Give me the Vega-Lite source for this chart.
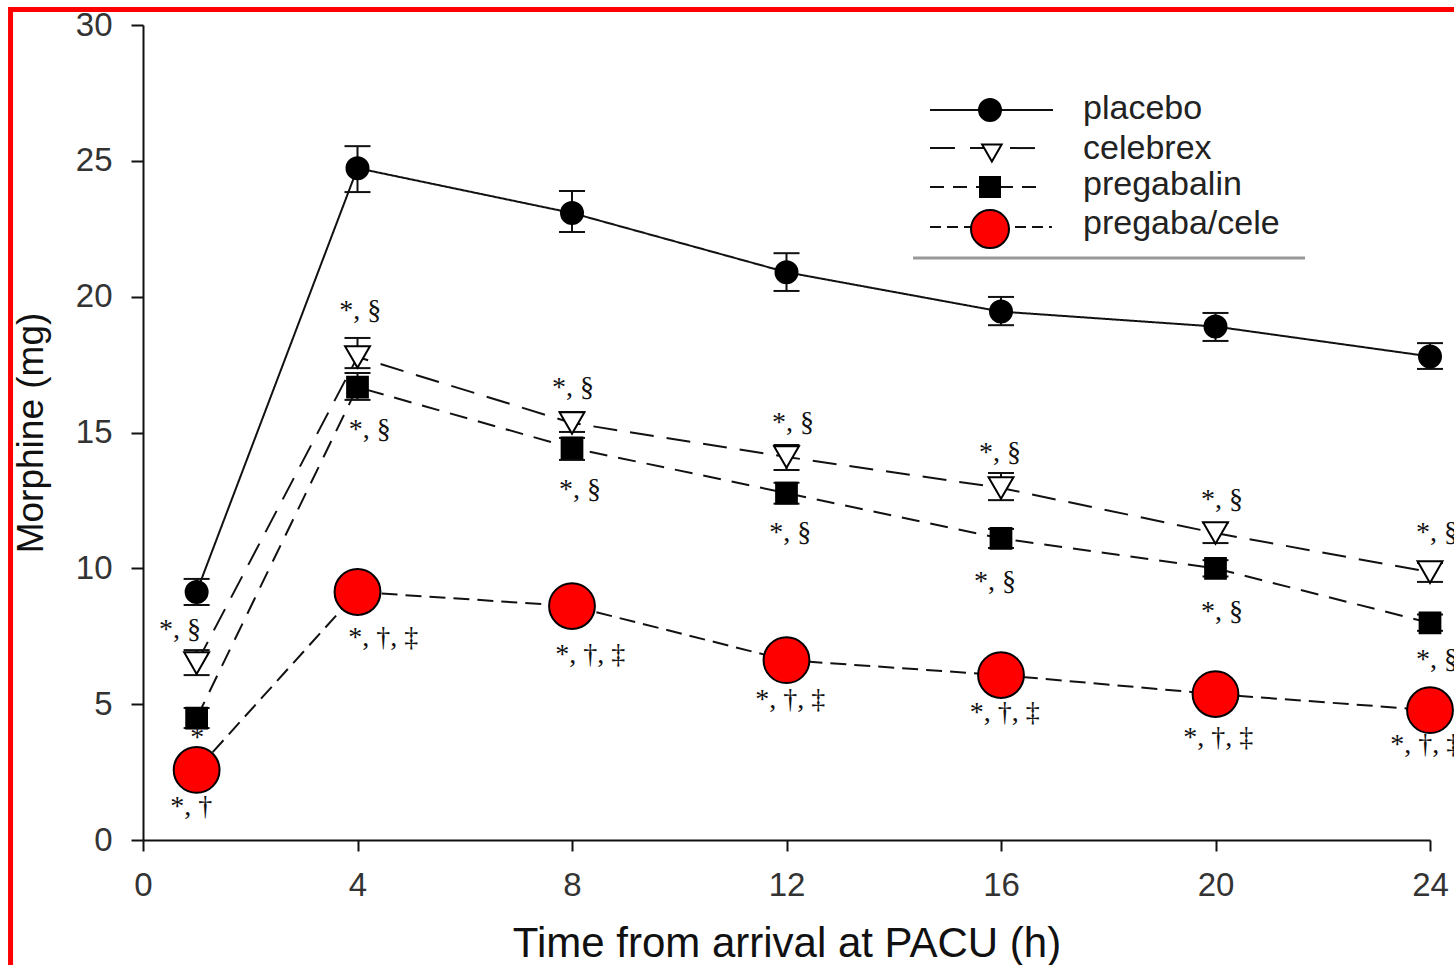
{
  "$schema": "https://vega.github.io/schema/vega-lite/v6.json",
  "width": 1287,
  "height": 815,
  "autosize": {"type": "none"},
  "padding": {"left": 143, "top": 25, "right": 24, "bottom": 125},
  "background": "white",
  "config": {"view": {"stroke": null}, "font": "Liberation Sans"},
  "datasets": {
    "series": [
      {"series": "placebo", "time": 1, "value": 9.13, "lo": 8.65, "hi": 9.61},
      {"series": "placebo", "time": 4, "value": 24.73, "lo": 23.85, "hi": 25.54},
      {"series": "placebo", "time": 8, "value": 23.08, "lo": 22.38, "hi": 23.89},
      {"series": "placebo", "time": 12, "value": 20.9, "lo": 20.21, "hi": 21.6},
      {"series": "placebo", "time": 16, "value": 19.45, "lo": 18.95, "hi": 19.99},
      {"series": "placebo", "time": 20, "value": 18.9, "lo": 18.37, "hi": 19.4},
      {"series": "placebo", "time": 24, "value": 17.8, "lo": 17.34, "hi": 18.29},
      {"series": "celebrex", "time": 1, "value": 6.51, "lo": 6.07, "hi": 6.99},
      {"series": "celebrex", "time": 4, "value": 17.78, "lo": 17.37, "hi": 18.48},
      {"series": "celebrex", "time": 8, "value": 15.35, "lo": 15.02, "hi": 15.75},
      {"series": "celebrex", "time": 12, "value": 14.1, "lo": 13.62, "hi": 14.54},
      {"series": "celebrex", "time": 16, "value": 12.96, "lo": 12.51, "hi": 13.51},
      {"series": "celebrex", "time": 20, "value": 11.3, "lo": 10.93, "hi": 11.67},
      {"series": "celebrex", "time": 24, "value": 9.86, "lo": 9.5, "hi": 10.2},
      {"series": "pregabalin", "time": 1, "value": 4.49, "lo": 4.12, "hi": 4.86},
      {"series": "pregabalin", "time": 4, "value": 16.67, "lo": 16.2, "hi": 17.19},
      {"series": "pregabalin", "time": 8, "value": 14.43, "lo": 13.99, "hi": 14.8},
      {"series": "pregabalin", "time": 12, "value": 12.77, "lo": 12.38, "hi": 13.15},
      {"series": "pregabalin", "time": 16, "value": 11.1, "lo": 10.75, "hi": 11.45},
      {"series": "pregabalin", "time": 20, "value": 10.0, "lo": 9.7, "hi": 10.3},
      {"series": "pregabalin", "time": 24, "value": 7.99, "lo": 7.7, "hi": 8.3},
      {"series": "pregaba/cele", "time": 1, "value": 2.58, "lo": null, "hi": null},
      {"series": "pregaba/cele", "time": 4, "value": 9.13, "lo": null, "hi": null},
      {"series": "pregaba/cele", "time": 8, "value": 8.61, "lo": null, "hi": null},
      {"series": "pregaba/cele", "time": 12, "value": 6.62, "lo": null, "hi": null},
      {"series": "pregaba/cele", "time": 16, "value": 6.07, "lo": null, "hi": null},
      {"series": "pregaba/cele", "time": 20, "value": 5.37, "lo": null, "hi": null},
      {"series": "pregaba/cele", "time": 24, "value": 4.78, "lo": null, "hi": null}
    ],
    "notes": [
      {"time": 0.69, "value": 7.73, "label": "*, §"},
      {"time": 1.01, "value": 3.75, "label": "*"},
      {"time": 0.9, "value": 1.21, "label": "*, †"},
      {"time": 4.05, "value": 19.47, "label": "*, §"},
      {"time": 4.23, "value": 15.09, "label": "*, §"},
      {"time": 4.48, "value": 7.44, "label": "*, †, ‡"},
      {"time": 8.02, "value": 16.64, "label": "*, §"},
      {"time": 8.15, "value": 12.88, "label": "*, §"},
      {"time": 8.34, "value": 6.81, "label": "*, †, ‡"},
      {"time": 12.12, "value": 15.35, "label": "*, §"},
      {"time": 12.07, "value": 11.3, "label": "*, §"},
      {"time": 12.07, "value": 5.15, "label": "*, †, ‡"},
      {"time": 15.98, "value": 14.25, "label": "*, §"},
      {"time": 15.89, "value": 9.5, "label": "*, §"},
      {"time": 16.07, "value": 4.67, "label": "*, †, ‡"},
      {"time": 20.12, "value": 12.52, "label": "*, §"},
      {"time": 20.12, "value": 8.39, "label": "*, §"},
      {"time": 20.05, "value": 3.75, "label": "*, †, ‡"},
      {"time": 24.13, "value": 11.3, "label": "*, §"},
      {"time": 24.13, "value": 6.63, "label": "*, §"},
      {"time": 23.91, "value": 3.5, "label": "*, †, ‡"}
    ],
    "one": [{"k": 1}]
  },
  "layer": [
    {
      "data": {"name": "series"},
      "mark": {"type": "line", "stroke": "#111111", "strokeWidth": 2},
      "encoding": {
        "x": {
          "field": "time", "type": "quantitative",
          "scale": {"domain": [0, 24], "nice": false, "zero": false},
          "axis": {
            "title": "Time from arrival at PACU (h)",
            "values": [0, 4, 8, 12, 16, 20, 24],
            "labelFont": "Liberation Sans", "labelFontSize": 33, "labelColor": "#333333",
            "labelPadding": 18, "labelFlush": false, "labelOverlap": false,
            "tickSize": 11, "tickWidth": 2, "tickColor": "#111111",
            "domainColor": "#111111", "domainWidth": 2, "grid": false,
            "titleFont": "Liberation Sans", "titleFontSize": 42, "titleFontWeight": "normal",
            "titleColor": "#111111", "titlePadding": 21
          }
        },
        "y": {
          "field": "value", "type": "quantitative",
          "scale": {"domain": [0, 30], "nice": false},
          "axis": {
            "title": "Morphine (mg)",
            "values": [0, 5, 10, 15, 20, 25, 30],
            "labelFont": "Liberation Sans", "labelFontSize": 33, "labelColor": "#333333",
            "labelPadding": 19, "labelFlush": false, "labelOverlap": false,
            "tickSize": 12, "tickWidth": 2, "tickColor": "#111111",
            "domainColor": "#111111", "domainWidth": 2, "grid": false,
            "titleFont": "Liberation Sans", "titleFontSize": 37, "titleFontWeight": "normal",
            "titleColor": "#111111", "titlePadding": 25
          }
        },
        "detail": {"field": "series", "type": "nominal"},
        "strokeDash": {
          "field": "series", "type": "nominal",
          "scale": {"domain": ["placebo", "celebrex", "pregabalin", "pregaba/cele"], "range": [[1, 0], [24, 13], [18, 11], [16, 8]]},
          "legend": null
        }
      }
    },
    {
      "data": {"name": "one"},
      "mark": {"type": "rect", "fill": "white", "fillOpacity": 0, "stroke": "#ff0000", "strokeWidth": 5, "clip": false},
      "encoding": {
        "x": {"datum": -2.47, "type": "quantitative"},
        "x2": {"datum": 26},
        "y": {"datum": 30.57, "type": "quantitative"},
        "y2": {"datum": -6}
      }
    },
    {
      "data": {"name": "one"},
      "mark": {"type": "rule", "stroke": "#999999", "strokeWidth": 3},
      "encoding": {
        "x": {"datum": 14.36, "type": "quantitative"},
        "x2": {"datum": 21.67},
        "y": {"datum": 21.42, "type": "quantitative"}
      }
    },
    {
      "data": {"name": "series"},
      "mark": {"type": "rule", "stroke": "#111111", "strokeWidth": 2},
      "encoding": {
        "x": {"field": "time", "type": "quantitative"},
        "y": {"field": "lo", "type": "quantitative"},
        "y2": {"field": "hi"}
      }
    },
    {
      "data": {"name": "series"},
      "mark": {"type": "tick", "orient": "horizontal", "size": 26, "thickness": 2, "color": "#111111", "opacity": 1},
      "encoding": {
        "x": {"field": "time", "type": "quantitative"},
        "y": {"field": "lo", "type": "quantitative"}
      }
    },
    {
      "data": {"name": "series"},
      "mark": {"type": "tick", "orient": "horizontal", "size": 26, "thickness": 2, "color": "#111111", "opacity": 1},
      "encoding": {
        "x": {"field": "time", "type": "quantitative"},
        "y": {"field": "hi", "type": "quantitative"}
      }
    },
    {
      "data": {"name": "series"},
      "mark": {"type": "point", "filled": true, "stroke": "#000000", "strokeWidth": 2, "opacity": 1},
      "encoding": {
        "x": {"field": "time", "type": "quantitative"},
        "y": {"field": "value", "type": "quantitative"},
        "shape": {
          "field": "series", "type": "nominal",
          "scale": {"domain": ["placebo", "celebrex", "pregabalin", "pregaba/cele"], "range": ["circle", "triangle-down", "square", "circle"]},
          "legend": null
        },
        "fill": {
          "field": "series", "type": "nominal",
          "scale": {"domain": ["placebo", "celebrex", "pregabalin", "pregaba/cele"], "range": ["#000000", "#ffffff", "#000000", "#ff0000"]},
          "legend": null
        },
        "size": {
          "condition": [
            {"test": "datum.series === 'pregaba/cele'", "value": 2100},
            {"test": "datum.series === 'celebrex'", "value": 620},
            {"test": "datum.series === 'pregabalin'", "value": 430}
          ],
          "value": 484
        }
      }
    },
    {
      "data": {"name": "notes"},
      "mark": {"type": "text", "font": "Liberation Serif", "fontSize": 28, "align": "center", "baseline": "middle", "color": "#111111"},
      "encoding": {
        "x": {"field": "time", "type": "quantitative"},
        "y": {"field": "value", "type": "quantitative"},
        "text": {"field": "label", "type": "nominal"}
      }
    },
    {
      "data": {"name": "one"},
      "mark": {"type": "rule", "stroke": "#111111", "strokeWidth": 2},
      "encoding": {"x": {"datum": 14.676, "type": "quantitative"}, "x2": {"datum": 16.97}, "y": {"datum": 26.87, "type": "quantitative"}}
    },
    {
      "data": {"name": "one"},
      "mark": {"type": "rule", "stroke": "#111111", "strokeWidth": 2, "strokeDash": [25, 15]},
      "encoding": {"x": {"datum": 14.676, "type": "quantitative"}, "x2": {"datum": 16.73}, "y": {"datum": 25.47, "type": "quantitative"}}
    },
    {
      "data": {"name": "one"},
      "mark": {"type": "rule", "stroke": "#111111", "strokeWidth": 2, "strokeDash": [14, 9]},
      "encoding": {"x": {"datum": 14.676, "type": "quantitative"}, "x2": {"datum": 16.82}, "y": {"datum": 24.04, "type": "quantitative"}}
    },
    {
      "data": {"name": "one"},
      "mark": {"type": "rule", "stroke": "#111111", "strokeWidth": 2, "strokeDash": [11, 6]},
      "encoding": {"x": {"datum": 14.676, "type": "quantitative"}, "x2": {"datum": 16.95}, "y": {"datum": 22.56, "type": "quantitative"}}
    },
    {
      "data": {"name": "one"},
      "mark": {"type": "point", "shape": "circle", "filled": true, "fill": "#000000", "stroke": "#000000", "strokeWidth": 2, "size": 484, "opacity": 1},
      "encoding": {"x": {"datum": 15.795, "type": "quantitative"}, "y": {"datum": 26.87, "type": "quantitative"}}
    },
    {
      "data": {"name": "one"},
      "mark": {"type": "point", "shape": "triangle-down", "filled": true, "fill": "#ffffff", "stroke": "#000000", "strokeWidth": 2, "size": 380, "opacity": 1},
      "encoding": {"x": {"datum": 15.83, "type": "quantitative"}, "y": {"datum": 25.29, "type": "quantitative"}}
    },
    {
      "data": {"name": "one"},
      "mark": {"type": "point", "shape": "square", "filled": true, "fill": "#000000", "stroke": "#000000", "strokeWidth": 2, "size": 400, "opacity": 1},
      "encoding": {"x": {"datum": 15.795, "type": "quantitative"}, "y": {"datum": 24.04, "type": "quantitative"}}
    },
    {
      "data": {"name": "one"},
      "mark": {"type": "point", "shape": "circle", "filled": true, "fill": "#ff0000", "stroke": "#000000", "strokeWidth": 2, "size": 1444, "opacity": 1},
      "encoding": {"x": {"datum": 15.795, "type": "quantitative"}, "y": {"datum": 22.49, "type": "quantitative"}}
    },
    {
      "data": {"name": "one"},
      "mark": {"type": "text", "text": "placebo", "font": "Liberation Sans", "fontSize": 34, "align": "left", "baseline": "middle", "color": "#222222"},
      "encoding": {"x": {"datum": 17.53, "type": "quantitative"}, "y": {"datum": 26.91, "type": "quantitative"}}
    },
    {
      "data": {"name": "one"},
      "mark": {"type": "text", "text": "celebrex", "font": "Liberation Sans", "fontSize": 34, "align": "left", "baseline": "middle", "color": "#222222"},
      "encoding": {"x": {"datum": 17.53, "type": "quantitative"}, "y": {"datum": 25.43, "type": "quantitative"}}
    },
    {
      "data": {"name": "one"},
      "mark": {"type": "text", "text": "pregabalin", "font": "Liberation Sans", "fontSize": 34, "align": "left", "baseline": "middle", "color": "#222222"},
      "encoding": {"x": {"datum": 17.53, "type": "quantitative"}, "y": {"datum": 24.11, "type": "quantitative"}}
    },
    {
      "data": {"name": "one"},
      "mark": {"type": "text", "text": "pregaba/cele", "font": "Liberation Sans", "fontSize": 34, "align": "left", "baseline": "middle", "color": "#222222"},
      "encoding": {"x": {"datum": 17.53, "type": "quantitative"}, "y": {"datum": 22.67, "type": "quantitative"}}
    }
  ]
}
